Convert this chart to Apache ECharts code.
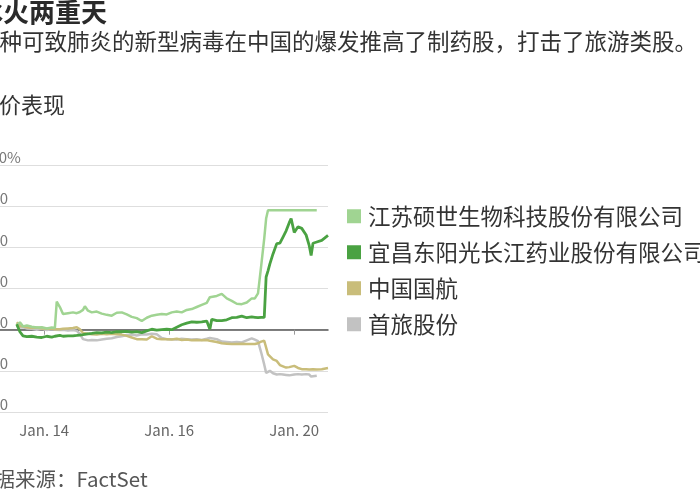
<!DOCTYPE html>
<html>
<head>
<meta charset="utf-8">
<script src="https://cdn.jsdelivr.net/npm/echarts@6/dist/echarts.min.js"></script>
<style>
html,body{margin:0;padding:0;background:#fff;overflow:hidden;}
#wrap{position:relative;width:700px;height:500px;overflow:hidden;}
#chart{position:absolute;left:-24px;top:0;width:724px;height:500px;}
</style>
</head>
<body>
<div id="wrap"><div id="chart"></div></div>
<script>
// Trading-day time (0 = Jan 14 open, each trading day = 1 unit)
const times = [0.06,0.11,0.16,0.22,0.30,0.38,0.46,0.54,0.62,0.67,
  0.70,0.75,0.80,0.88,0.96,1.02,1.07,1.12,1.15,1.20,
  1.26,1.34,1.42,1.50,1.58,1.66,1.74,1.82,1.90,1.98,
  2.06,2.14,2.22,2.30,2.38,2.46,2.54,2.62,2.70,2.78,
  2.86,2.94,3.02,3.10,3.15,3.18,3.26,3.34,3.42,3.50,
  3.58,3.66,3.74,3.82,3.87,3.92,3.97,4.02,4.05,4.08,
  4.11,4.16,4.22,4.27,4.32,4.37,4.42,4.45,4.50,4.56,
  4.62,4.69,4.74,4.77,4.80,4.86,4.94,5.04];

const seriesNames = ['江苏硕世生物科技股份有限公司','宜昌东阳光长江药业股份有限公司','中国国航','首旅股份'];

const shuoshi = [1.0,1.8,0.8,1.0,0.7,0.5,0.6,0.3,0.5,0.4,
  6.8,5.5,3.8,4.0,4.2,4.0,4.3,4.8,5.7,4.6,
  4.2,4.4,3.9,3.6,3.4,4.1,4.2,3.7,3.1,2.8,
  2.1,2.9,3.4,3.6,3.8,3.7,4.2,4.4,4.2,4.8,
  5.0,5.5,6.0,6.5,7.9,7.5,8.2,8.7,7.6,7.0,
  6.3,6.2,6.6,7.6,7.6,8.8,15.4,22.2,27.0,29.0,
  29.0,29.0,29.0,29.0,29.0,29.0,29.0,29.0,29.0,29.0,
  29.0,29.0,29.0,29.0,29.0,29.0,null,null];

const dongyangguang = [1.3,-0.5,-1.5,-1.7,-1.6,-1.8,-1.9,-1.6,-1.8,-1.6,
  -1.5,-1.4,-1.6,-1.5,-1.5,-1.4,-1.3,-1.2,-1.1,-1.0,
  -0.9,-0.7,-0.8,-0.6,-0.7,-0.5,-0.5,-0.4,-0.6,-0.5,
  -0.7,-0.3,0.1,-0.1,0.0,0.1,0.0,0.6,1.2,1.6,
  1.9,1.8,1.9,2.1,0.1,2.5,2.2,2.2,2.4,2.9,
  3.0,3.3,2.9,3.1,3.0,2.9,3.0,3.0,12.8,14.3,
  16.0,18.4,20.9,21.0,22.5,24.0,26.0,27.0,23.6,25.0,
  24.6,23.0,20.4,18.0,21.0,21.3,21.7,22.9];

const airChina = [1.8,0.9,0.8,0.6,0.4,0.5,0.3,0.2,0.3,0.1,
  0.0,0.1,0.2,0.3,0.4,0.6,0.1,-0.8,-1.1,-1.0,
  -1.1,-1.2,-1.0,-1.1,-1.0,-1.1,-1.2,-1.5,-1.9,-2.3,
  -2.3,-2.4,-1.6,-2.2,-2.3,-2.3,-2.4,-2.2,-2.5,-2.4,
  -2.6,-2.5,-2.6,-2.5,-2.7,-2.6,-3.0,-3.3,-3.4,-3.5,
  -3.5,-3.4,-3.5,-3.5,-3.5,-3.3,-2.9,-2.7,-2.8,-6.0,
  -6.4,-7.2,-7.6,-8.6,-8.9,-9.2,-9.1,-9.0,-8.8,-9.3,
  -9.6,-9.6,-9.7,-9.6,-9.6,-9.7,-9.6,-9.3];

const btg = [0.9,0.5,0.6,0.3,0.2,0.0,0.2,-0.1,0.1,0.0,
  -0.2,-0.1,0.0,-0.2,-0.1,-0.3,-1.0,-2.3,-2.5,-2.6,
  -2.5,-2.6,-2.4,-2.2,-2.1,-1.8,-1.6,-1.3,-1.2,-1.4,
  -1.1,-1.2,-1.0,-1.1,-2.0,-2.3,-2.3,-2.4,-2.2,-2.3,
  -2.4,-2.3,-2.5,-2.2,-2.0,-2.1,-2.3,-2.9,-3.0,-3.1,
  -3.0,-3.1,-2.6,-2.1,-2.4,-2.8,-5.5,-8.5,-10.5,-10.9,
  -10.0,-10.6,-10.9,-10.8,-10.9,-11.0,-11.1,-11.0,-10.9,-10.8,
  -10.9,-10.8,-10.9,-11.4,-11.6,-11.2,null,null];

const tickPositions = [0.5, 2.5, 4.5];
const tickLabels = ['Jan. 14', 'Jan. 16', 'Jan. 20'];
const yTicks = [-20, -10, 0, 10, 20, 30, 40];

const colors = ['#a0d492', '#4aa242', '#c9bd7a', '#c2c2c2'];
const FONT = '"Noto Sans CJK SC","Noto Sans",sans-serif';

function pairs(vals) { return times.map((t, i) => [t, vals[i]]); }

const chart = echarts.init(document.getElementById('chart'), null, {renderer: 'canvas'});
chart.setOption({
  animation: false,
  backgroundColor: '#ffffff',
  title: [
    {text: '冰火两重天', left: 1, top: -1, padding: 0,
     textStyle: {fontFamily: FONT, fontSize: 26, fontWeight: 'bold', color: '#2a2a2a'}},
    {text: '一种可致肺炎的新型病毒在中国的爆发推高了制药股，打击了旅游类股。', left: 1, top: 30, padding: 0,
     textStyle: {fontFamily: FONT, fontSize: 22.5, fontWeight: 'normal', color: '#333'}},
    {text: '股价表现', left: 1, top: 94, padding: 0,
     textStyle: {fontFamily: FONT, fontSize: 22, fontWeight: 'normal', color: '#333'}},
    {text: '数据来源：FactSet', left: -2, top: 469, padding: 0,
     textStyle: {fontFamily: FONT, fontSize: 20.5, fontWeight: 'normal', color: '#555'}}
  ],
  legend: {
    orient: 'vertical', left: 371, top: 205, padding: 0,
    itemWidth: 14, itemHeight: 14, itemGap: 13.5, icon: 'rect',
    data: seriesNames,
    textStyle: {fontFamily: FONT, fontSize: 22.5, color: '#333', lineHeight: 22, padding: [0,0,0,2]}
  },
  grid: {left: 2, right: 724 - 352, top: 165, bottom: 500 - 412, containLabel: false},
  xAxis: [{
    type: 'value', min: -0.56, max: 5.04,
    axisLine: {show: false},
    axisTick: {show: true, customValues: tickPositions, length: 5, lineStyle: {color: '#999'}},
    axisLabel: {show: true, customValues: tickPositions, margin: 11,
      fontFamily: FONT, fontSize: 15, color: '#666',
      formatter: v => { const i = tickPositions.findIndex(p => Math.abs(p - v) < 1e-6); return i >= 0 ? tickLabels[i] : ''; }},
    splitLine: {show: false}
  }, {
    type: 'value', min: -0.56, max: 5.04, position: 'bottom',
    axisLine: {show: true, onZero: true, onZeroAxisIndex: 0, lineStyle: {color: '#555', width: 1.5}},
    axisTick: {show: false}, axisLabel: {show: false}, splitLine: {show: false}
  }],
  yAxis: {
    type: 'value', min: -20, max: 40, interval: 10,
    axisLine: {show: false}, axisTick: {show: false},
    splitLine: {lineStyle: {color: '#dedede', width: 1}},
    axisLabel: {
      inside: true, margin: 30, align: 'right', verticalAlign: 'bottom',
      fontFamily: FONT, fontSize: 15, color: '#777',
      formatter: v => v === yTicks[yTicks.length - 1] ? '{n|' + v + '}{p|%}' : (v < 0 ? '–' + Math.abs(v) : String(v)),
      rich: {
        n: {align: 'left', fontFamily: FONT, fontSize: 15, color: '#777'},
        p: {align: 'left', width: 1, fontFamily: FONT, fontSize: 15, color: '#777'}
      }
    }
  },
  series: [
    {name: seriesNames[3], type: 'line', data: pairs(btg), showSymbol: false, symbol: 'none',
     lineStyle: {width: 2.5, color: colors[3]}, itemStyle: {color: colors[3]}},
    {name: seriesNames[2], type: 'line', data: pairs(airChina), showSymbol: false, symbol: 'none',
     lineStyle: {width: 2.5, color: colors[2]}, itemStyle: {color: colors[2]}},
    {name: seriesNames[0], type: 'line', data: pairs(shuoshi), showSymbol: false, symbol: 'none',
     lineStyle: {width: 2.5, color: colors[0]}, itemStyle: {color: colors[0]}},
    {name: seriesNames[1], type: 'line', data: pairs(dongyangguang), showSymbol: false, symbol: 'none',
     lineStyle: {width: 2.8, color: colors[1]}, itemStyle: {color: colors[1]}}
  ]
});
</script>
</body>
</html>
